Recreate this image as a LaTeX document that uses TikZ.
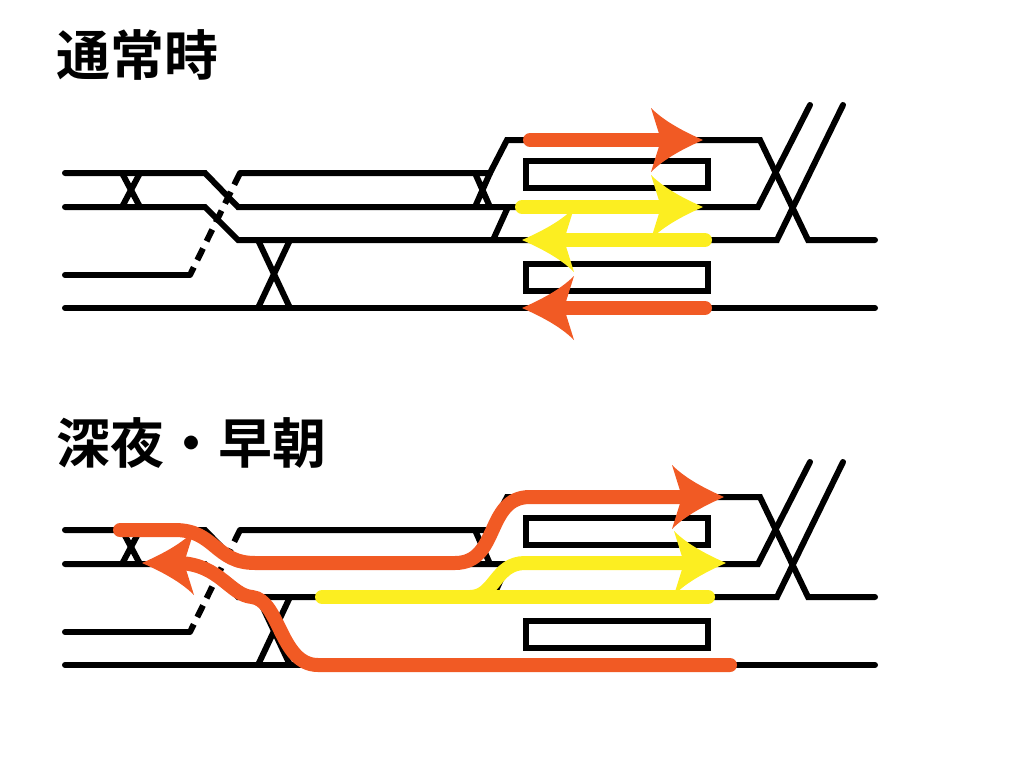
\documentclass[tikz,border=0pt]{standalone}
\usepackage{fontspec}
\newfontfamily\cjk{Noto Sans CJK JP Bold}
\definecolor{orng}{HTML}{F15A24}
\definecolor{yllw}{HTML}{FCEE21}
\begin{document}
\begin{tikzpicture}[x=1pt,y=-1pt,
  trk/.style={line width=6pt,line cap=round,line join=miter},
  rte/.style={line width=14pt,line cap=round},
  pics/head/.style={code={\fill[pic actions] (0,0) .. controls (-18,-8) and (-38,-18) .. (-52,-32) -- (-42,0) -- (-52,32) .. controls (-38,18) and (-18,8) .. (0,0) -- cycle;}},
  ttl/.style={anchor=west,font=\cjk\fontsize{54}{60}\selectfont,inner sep=0pt}]
\useasboundingbox (0,0) rectangle (1024,768);
\node[ttl] (t1) at (56,55) {通常時};
\node[ttl] (t2) at (56,443) {深夜・早朝};
\foreach \o in {0,357}{
\begin{scope}[yshift=-\o]
 \draw[trk] (65,173) -- (205,173) -- (238,207) -- (758,207) -- (810,105);
 \draw[trk] (65,207) -- (205,207) -- (238,240) -- (777,240) -- (843,105);
 \draw[trk] (240,173) -- (490,173) -- (507,140) -- (760,140) -- (808,240) -- (875,240);
 \draw[trk] (493,240) -- (508,207);
 \draw[trk] (475,173) -- (490,207) (490,173) -- (475,207);
 \draw[trk] (122,173) -- (140,207) (140,173) -- (122,207);
 \draw[trk] (258,240) -- (290,308) (290,240) -- (258,308);
 \draw[trk] (65,308) -- (875,308);
 \draw[trk] (65,275) -- (190,275);
 \draw[trk,line cap=butt,dash pattern=on 13pt off 8pt] (240,173) -- (190,275);
 \draw[line width=6pt] (526,161) rectangle (708,188) (526,264) rectangle (708,291);
\end{scope}}
% top routes
\draw[rte,orng] (530,140) -- (665,140); \pic[fill=orng] at (703,140) {head};
\draw[rte,yllw] (522,207) -- (665,207); \pic[fill=yllw] at (703,207) {head};
\draw[rte,yllw] (705,240) -- (560,240); \pic[fill=yllw,xscale=-1] at (522,240) {head};
\draw[rte,orng] (705,308) -- (560,308); \pic[fill=orng,xscale=-1] at (522,308) {head};
% bottom routes
\draw[rte,yllw] (322,597) -- (708,597);
\draw[rte,yllw] (470,597) .. controls (495,597) and (495,563) .. (525,563) -- (685,563);
\pic[fill=yllw] at (726,563) {head};
\draw[rte,orng] (120,530) -- (175,530) .. controls (215,530) and (215,563) .. (255,563) -- (455,563) .. controls (500,563) and (485,497) .. (530,497) -- (685,497);
\pic[fill=orng] at (724,497) {head};
\draw[rte,orng] (730,665) -- (318,665) .. controls (280,665) and (280,600) .. (252,597) .. controls (230,595) and (220,565) .. (180,563);
\pic[fill=orng,xscale=-1] at (142,563) {head};
\end{tikzpicture}
\end{document}
